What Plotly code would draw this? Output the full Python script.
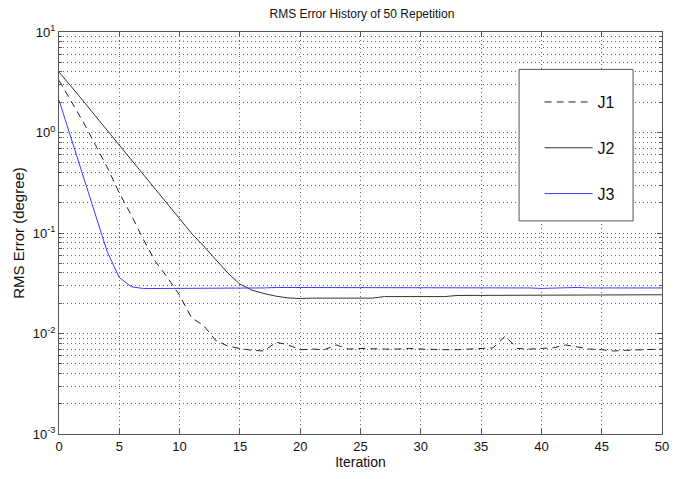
import plotly.graph_objects as go

# RMS error per iteration for each joint (degrees)
iterations = list(range(0, 51))

j1_error = [3.3, 2.05, 1.28, 0.76, 0.45, 0.25, 0.15, 0.086, 0.052, 0.036,
            0.024, 0.0143, 0.012, 0.0085, 0.0075, 0.0071, 0.0068, 0.0067, 0.0082, 0.0077,
            0.0069, 0.0070, 0.0069, 0.0077, 0.0070, 0.0071, 0.0070, 0.0070, 0.0070, 0.0071,
            0.0070, 0.0069, 0.0069, 0.0069, 0.0070, 0.0071, 0.0072, 0.0094, 0.0071, 0.0070,
            0.0071, 0.0072, 0.0077, 0.0074, 0.0070, 0.0069, 0.0067, 0.0068, 0.0069, 0.0070,
            0.0070]

j2_error = [4.0, 2.9, 2.07, 1.47, 1.05, 0.75, 0.53, 0.38, 0.27, 0.193,
            0.138, 0.099, 0.074, 0.054, 0.040, 0.031, 0.027, 0.025, 0.0235, 0.0226,
            0.0223, 0.0225, 0.0225, 0.0225, 0.0225, 0.0225, 0.0225, 0.0233, 0.0233, 0.0233,
            0.0233, 0.0233, 0.0233, 0.0239, 0.0239, 0.0239, 0.0239, 0.0239, 0.0239, 0.0239,
            0.0239, 0.0243, 0.0243, 0.0243, 0.0243, 0.0243, 0.0243, 0.0243, 0.0243, 0.0243,
            0.0243]

j3_error = [2.1, 0.87, 0.36, 0.15, 0.065, 0.036, 0.0292, 0.0280, 0.0280, 0.0282,
            0.0283, 0.0283, 0.0282, 0.0281, 0.0281, 0.0284, 0.0284, 0.0284, 0.0287, 0.0287,
            0.0284, 0.0284, 0.0284, 0.0284, 0.0287, 0.0284, 0.0284, 0.0284, 0.0284, 0.0284,
            0.0284, 0.0284, 0.0284, 0.0287, 0.0284, 0.0284, 0.0284, 0.0284, 0.0284, 0.0284,
            0.0281, 0.0284, 0.0284, 0.0287, 0.0284, 0.0284, 0.0284, 0.0284, 0.0284, 0.0284,
            0.0284]

series_names = ["J1", "J2", "J3"]

# decade ticks on the log axis, labelled as powers of ten
decade_exponents = [-3, -2, -1, 0, 1]
decade_vals = [10.0 ** e for e in decade_exponents]
decade_text = ["10<sup>%d</sup>" % e for e in decade_exponents]
minor_vals = [k * 10.0 ** e for e in decade_exponents[:-1] for k in range(2, 10)]

font_family = "Liberation Sans, Arial, sans-serif"
grid_color = "#666666"
grid_dash = "1px,3px"
axis_color = "#555555"

fig = go.Figure()
fig.add_trace(go.Scatter(x=iterations, y=j1_error, name=series_names[0], mode="lines",
                         legendgroup="a",
                         line=dict(color="#222222", width=1, dash="7px,5px")))
fig.add_trace(go.Scatter(x=iterations, y=j2_error, name=series_names[1], mode="lines",
                         legendgroup="b",
                         line=dict(color="#333333", width=1)))
fig.add_trace(go.Scatter(x=iterations, y=j3_error, name=series_names[2], mode="lines",
                         legendgroup="c",
                         line=dict(color="#3a3aff", width=1)))

# legend frame
fig.add_shape(type="rect", xref="paper", yref="paper",
              x0=0.763, x1=0.952, y0=0.530, y1=0.907,
              line=dict(color=axis_color, width=1), fillcolor="white", layer="above")

fig.update_layout(
    width=683, height=479,
    margin=dict(l=59, r=21, t=32, b=38),
    paper_bgcolor="white", plot_bgcolor="white",
    font=dict(family=font_family, color="#111111", size=13),
    title=dict(text="RMS Error History of 50 Repetition", x=0.53, xanchor="center",
               y=0.972, yanchor="middle", font=dict(size=12)),
    showlegend=True,
    legend=dict(x=0.797, y=0.868, xanchor="left", yanchor="top",
                bgcolor="rgba(0,0,0,0)", borderwidth=0,
                font=dict(size=16), tracegroupgap=22, itemwidth=48,
                traceorder="grouped"),
    xaxis=dict(range=[0, 50], dtick=5, showgrid=True, gridcolor=grid_color,
               griddash=grid_dash, gridwidth=1, zeroline=False,
               showline=True, linecolor=axis_color, linewidth=1, mirror="ticks",
               ticks="inside", ticklen=5, tickcolor=axis_color,
               title=dict(text="Iteration", font=dict(size=14), standoff=4)),
    yaxis=dict(type="log", range=[-3, 1], tickmode="array",
               tickvals=decade_vals, ticktext=decade_text,
               showgrid=True, gridcolor=grid_color,
               griddash=grid_dash, gridwidth=1, zeroline=False,
               showline=True, linecolor=axis_color, linewidth=1, mirror="ticks",
               ticks="inside", ticklen=5, tickcolor=axis_color,
               minor=dict(tickmode="array", tickvals=minor_vals, showgrid=True,
                          gridcolor=grid_color, griddash=grid_dash,
                          ticks="inside", ticklen=3, tickcolor=axis_color),
               title=dict(text="RMS Error (degree)", font=dict(size=15), standoff=4)),
)

fig.write_html("out.html")
